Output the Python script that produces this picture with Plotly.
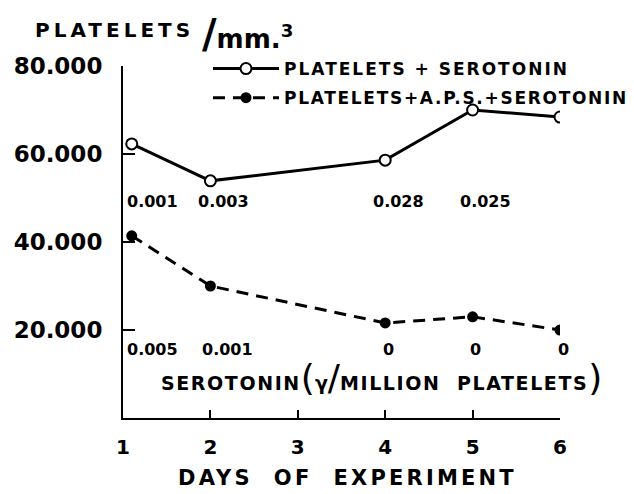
import plotly.graph_objects as go

# Data
day_positions = [1.1, 2, 4, 5, 6]
platelets_serotonin = [62300, 53900, 58600, 70000, 68400]
platelets_aps_serotonin = [41400, 30000, 21600, 23000, 20000]
serotonin_row1 = ["0.001", "0.003", "0.028", "0.025"]
serotonin_row1_days = [1, 2, 4, 5]
serotonin_row2 = ["0.005", "0.001", "0", "0", "0"]
serotonin_row2_days = [1, 2, 4, 5, 6]
x_ticks = [1, 2, 3, 4, 5, 6]
x_ticklabels = ["1", "2", "3", "4", "5", "6"]
y_ticks = [20000, 40000, 60000, 80000]
y_ticklabels = ["20.000", "40.000", "60.000", "80.000"]

FONT = "DejaVu Sans"
BOLD = dict(family=FONT, color="black", weight="bold")
W, H = 634, 494
L, R, T, B = 123, 74, 66, 76
pw, ph = W - L - R, H - T - B


def px_x(x):
    return (x - L) / pw


def px_y(y):
    return (H - B - y) / ph


def ls(text, sp):
    return f"<span style='letter-spacing:{sp}px'>{text}</span>"


fig = go.Figure()
fig.add_trace(go.Scatter(
    x=day_positions, y=platelets_serotonin, mode="lines+markers",
    name=ls("PLATELETS + SEROTONIN", 2.0), legendgroup="a",
    line=dict(color="black", width=3),
    marker=dict(symbol="circle", size=11, color="white", line=dict(color="black", width=2)),
))
fig.add_trace(go.Scatter(
    x=day_positions, y=platelets_aps_serotonin, mode="lines+markers",
    name=ls("PLATELETS+A.P.S.+SEROTONIN", 1.7), legendgroup="b",
    line=dict(color="black", width=3, dash="12px,8px"),
    marker=dict(symbol="circle", size=11, color="black"),
))

annotations = []
row1_shift = [2, 13, 13, 13]
for i, (d, t) in enumerate(zip(serotonin_row1_days, serotonin_row1)):
    annotations.append(dict(
        x=d, y=px_y(201), xref="x", yref="paper", yanchor="middle", text=t, showarrow=False,
        xanchor="left" if i == 0 else "center", xshift=row1_shift[i],
        font=dict(size=16, **BOLD)))
row2_shift = [2, 17, 3, 3, 3]
for i, (d, t) in enumerate(zip(serotonin_row2_days, serotonin_row2)):
    annotations.append(dict(
        x=d, y=px_y(349), xref="x", yref="paper", yanchor="middle", text=t, showarrow=False,
        xanchor="left" if i == 0 else "center", xshift=row2_shift[i],
        font=dict(size=16, **BOLD)))
annotations.append(dict(
    x=px_x(381), y=px_y(377), xref="paper", yref="paper", xanchor="center", yanchor="middle",
    text=ls("SEROTONIN", 1.6) + "<span style='font-size:36px;font-weight:normal'>(</span>γ"
         "<span style='font-size:36px;font-weight:normal'>/</span>" + ls("MILLION  PLATELETS", 1.6)
         + "<span style='font-size:36px;font-weight:normal'>)</span>",
    showarrow=False, font=dict(size=19, **BOLD)))
annotations.append(dict(
    x=px_x(347), y=px_y(478), xref="paper", yref="paper", xanchor="center", yanchor="middle",
    text=ls("DAYS  OF  EXPERIMENT", 3.2),
    showarrow=False, font=dict(size=21, **BOLD)))
annotations.append(dict(
    x=px_x(33), y=px_y(30), xref="paper", yref="paper", xanchor="left", yanchor="middle",
    text=ls("PLATELETS", 4),
    showarrow=False, font=dict(size=20, **BOLD)))
annotations.append(dict(
    x=px_x(200), y=px_y(34), xref="paper", yref="paper", xanchor="left", yanchor="middle",
    text="<span style='font-size:40px'>/</span>mm.<sup>3</sup>",
    showarrow=False, font=dict(size=26, family=FONT, color="black", weight="bold")))

fig.update_layout(
    width=W, height=H,
    margin=dict(l=L, r=R, t=T, b=B, autoexpand=False),
    paper_bgcolor="white", plot_bgcolor="white",
    font=dict(family=FONT, color="black"),
    showlegend=True,
    legend=dict(x=px_x(208), y=px_y(51), xanchor="left", yanchor="top",
                font=dict(size=17, **BOLD), bgcolor="rgba(0,0,0,0)",
                tracegroupgap=4, itemwidth=66),
    xaxis=dict(range=[1, 6], tickvals=x_ticks, ticktext=x_ticklabels,
               showline=True, linecolor="black", linewidth=2,
               ticks="inside", ticklen=8, tickwidth=2, tickcolor="black",
               showgrid=False, zeroline=False, ticklabelstandoff=10,
               tickfont=dict(size=20, **BOLD)),
    yaxis=dict(range=[0, 80000], tickvals=y_ticks, ticktext=y_ticklabels,
               showline=True, linecolor="black", linewidth=2,
               ticks="inside", ticklen=12, tickwidth=2, tickcolor="black",
               showgrid=False, zeroline=False, ticklabelstandoff=14,
               tickfont=dict(size=23, **BOLD)),
    annotations=annotations,
)

fig.write_html("out.html", config={"displayModeBar": False},
               post_script="document.body.style.margin='0px';")
